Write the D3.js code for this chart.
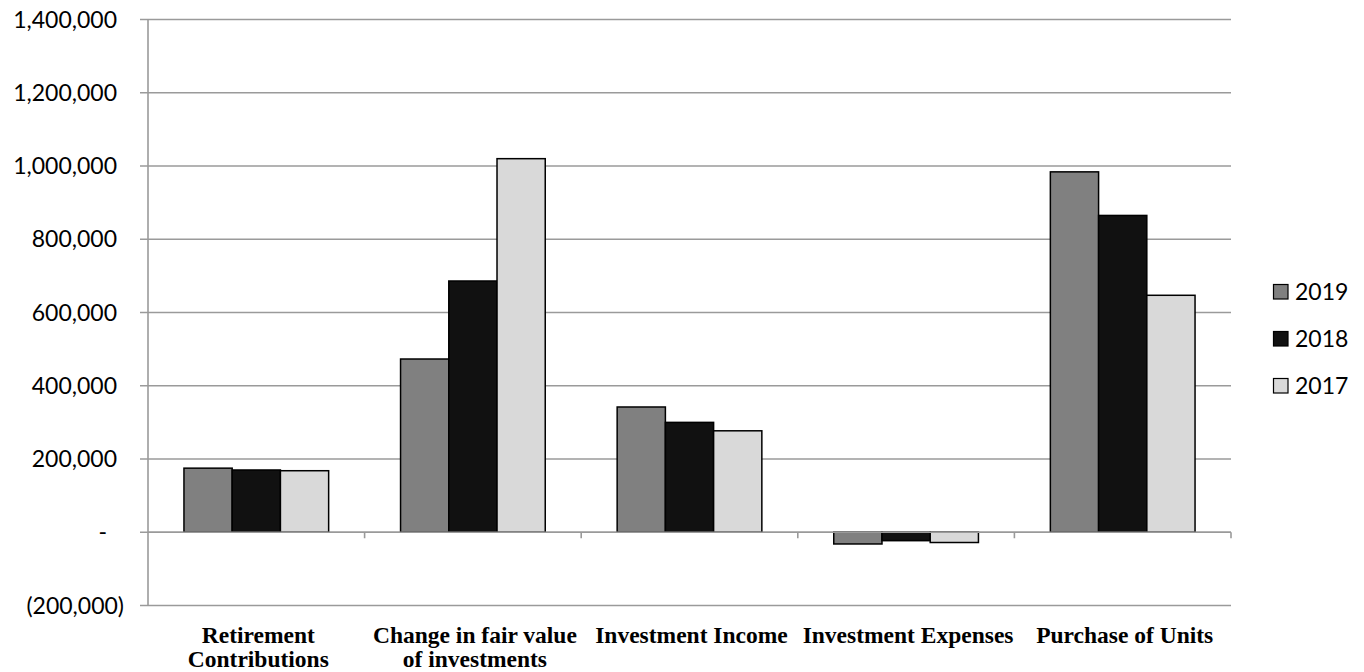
<!DOCTYPE html>
<html><head><meta charset="utf-8">
<script src="https://cdn.jsdelivr.net/npm/d3@7"></script>
<style>body{margin:0;background:#fff}svg{display:block}</style>
</head><body><svg id="c" width="1364" height="672"></svg>
<script>
const categories = [["Retirement","Contributions"],["Change in fair value","of investments"],["Investment Income"],["Investment Expenses"],["Purchase of Units"]];
const seriesNames = ["2019","2018","2017"];
const v2019 = [175000, 473000, 342000, -32000, 984000];
const v2018 = [170000, 686000, 300000, -23000, 865000];
const v2017 = [168000, 1020000, 277000, -28000, 647000];
const colors = ["#808080","#111111","#d9d9d9"];
const yTicks = [-200000,0,200000,400000,600000,800000,1000000,1200000,1400000];

(function(){
const series = [v2019, v2018, v2017];
const svg = d3.select("#c");
const pLeft = 148, pRight = 1231, pTop = 19.5, pBottom = 605.5;
const y = d3.scaleLinear().domain([-200000,1400000]).range([pBottom, pTop]);
const x0 = d3.scaleBand().domain(d3.range(categories.length)).range([pLeft, pRight]).padding(0);
const gw = x0.bandwidth()*0.668;
const x1 = d3.scaleBand().domain(d3.range(seriesNames.length)).range([0, gw]).padding(0);

const grid = "#9a9a9a";
const sans = "Lato, 'Open Sans', sans-serif";
svg.append("g").selectAll("line").data(yTicks).join("line")
  .attr("x1", pLeft-8).attr("x2", pRight).attr("y1", d=>y(d)).attr("y2", d=>y(d))
  .attr("stroke", grid).attr("stroke-width", 1.6);
svg.append("line").attr("x1",pLeft).attr("x2",pLeft).attr("y1",pTop).attr("y2",pBottom).attr("stroke",grid).attr("stroke-width",1.6);
const fmt = d3.format(",");
svg.append("g").selectAll("text").data(yTicks).join("text")
  .attr("x", d=> d===0 ? 107 : (d<0 ? 124 : 117))
  .attr("y", d=>y(d)).attr("dy","0.35em").attr("text-anchor","end")
  .attr("font-family",sans).attr("font-size",23).attr("fill","#000")
  .text(d=> d===0 ? "-" : d<0 ? "("+fmt(-d)+")" : fmt(d));

const g = svg.append("g");
categories.forEach((c,i)=>{
  const gx = x0(i) + (x0.bandwidth()-gw)/2;
  series.forEach((s,j)=>{
    const v = s[i];
    g.append("rect").attr("x", gx + x1(j)).attr("width", x1.bandwidth())
      .attr("y", y(Math.max(0,v))).attr("height", Math.abs(y(v)-y(0)))
      .attr("fill", colors[j]).attr("stroke","#000").attr("stroke-width",1.5);
  });
});
svg.append("line").attr("x1",pLeft).attr("x2",pRight).attr("y1",y(0)).attr("y2",y(0)).attr("stroke",grid).attr("stroke-width",1.6);
svg.append("g").selectAll("line").data(d3.range(1,categories.length+1)).join("line")
  .attr("x1", d=> d<categories.length ? x0(d) : pRight).attr("x2", d=> d<categories.length ? x0(d) : pRight)
  .attr("y1", y(0)).attr("y2", y(0)+6).attr("stroke",grid).attr("stroke-width",1.6);

categories.forEach((c,i)=>{
  const cx = x0(i)+x0.bandwidth()/2+2;
  const t = svg.append("text").attr("x", cx).attr("y", 643)
    .attr("text-anchor","middle").attr("font-family","'Liberation Serif', serif").attr("font-weight","bold")
    .attr("font-size",23.5).attr("fill","#000");
  c.forEach((line,k)=> t.append("tspan").attr("x", cx).attr("dy", k===0?0:24).text(line));
});

const lg = svg.append("g");
seriesNames.forEach((n,j)=>{
  const cy = 292 + j*47;
  lg.append("rect").attr("x",1273.5).attr("y",cy-7.5).attr("width",14.5).attr("height",14.5)
    .attr("fill",colors[j]).attr("stroke","#000").attr("stroke-width",1.2);
  lg.append("text").attr("x",1295).attr("y",cy).attr("dy","0.35em")
    .attr("font-family",sans).attr("font-size",23).text(n);
});
})();
</script></body></html>
